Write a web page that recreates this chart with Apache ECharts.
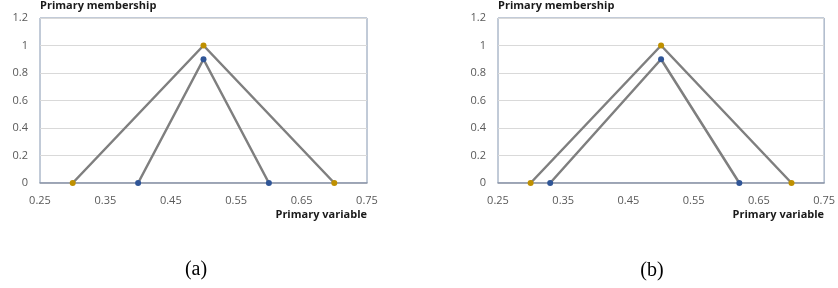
<!DOCTYPE html>
<html>
<head>
<meta charset="utf-8">
<script src="https://cdn.jsdelivr.net/npm/echarts@6/dist/echarts.min.js"></script>
<style>
  html, body { margin: 0; padding: 0; background: #fff; }
  #chart { width: 838px; height: 288px; }
</style>
</head>
<body>
<div id="chart"></div>
<script>
// (a) data
const outerA = [[0.3, 0], [0.5, 1], [0.7, 0]]
const innerA = [[0.4, 0], [0.5, 0.9], [0.6, 0]]
// (b) data
const outerB = [[0.3, 0], [0.5, 1], [0.7, 0]]
const innerB = [[0.33, 0], [0.5, 0.9], [0.62, 0]]

const xMin = 0.25, xMax = 0.75, xStep = 0.1
const yMin = 0, yMax = 1.2, yStep = 0.2
const captions = ['(a)', '(b)']

const chart = echarts.init(document.getElementById('chart'))

const labelFont = 'Open Sans, Liberation Sans, sans-serif'

function xAxisFor(idx) {
  return {
    gridIndex: idx,
    type: 'value',
    min: xMin,
    max: xMax,
    interval: xStep,
    name: 'Primary variable',
    nameLocation: 'end',
    nameGap: 0,
    nameTextStyle: {
      align: 'right',
      verticalAlign: 'top',
      padding: [26, 0, 0, 0],
      fontWeight: 'bold',
      fontSize: 11,
      color: '#1a1a1a',
      fontFamily: labelFont
    },
    axisLine: { lineStyle: { color: '#8e98aa', width: 1.5 } },
    axisTick: { show: false },
    splitLine: { show: false },
    axisLabel: {
      margin: 12,
      color: '#595959',
      fontSize: 11,
      fontFamily: labelFont,
      formatter: v => v.toFixed(2)
    }
  }
}

function yAxisFor(idx) {
  return {
    gridIndex: idx,
    type: 'value',
    min: yMin,
    max: yMax,
    interval: yStep,
    name: 'Primary membership',
    nameLocation: 'end',
    nameGap: 7,
    nameTextStyle: {
      align: 'left',
      fontWeight: 'bold',
      fontSize: 11,
      color: '#1a1a1a',
      fontFamily: labelFont
    },
    axisLine: { show: false },
    axisTick: { show: false },
    splitLine: { lineStyle: { color: '#d9d9d9', width: 1 } },
    axisLabel: {
      margin: 12,
      color: '#595959',
      fontSize: 11,
      fontFamily: labelFont,
      formatter: v => String(Math.round(v * 10) / 10)
    }
  }
}

function lineSeries(idx, data, dotColor) {
  return {
    type: 'line',
    xAxisIndex: idx,
    yAxisIndex: idx,
    data: data,
    symbol: 'circle',
    symbolSize: 6,
    lineStyle: { color: '#7f7f7f', width: 2.5 },
    itemStyle: { color: dotColor },
    z: dotColor === '#2f5597' ? 3 : 2
  }
}

const gold = '#bf9000'
const blue = '#2f5597'

const option = {
  animation: false,
  grid: [
    { left: 40, top: 13, width: 327, height: 170, show: true, borderColor: '#8496b0', borderWidth: 1 },
    { left: 498, top: 13, width: 328, height: 170, show: true, borderColor: '#8496b0', borderWidth: 1 }
  ],
  xAxis: [xAxisFor(0), xAxisFor(1)],
  yAxis: [yAxisFor(0), yAxisFor(1)],
  series: [
    lineSeries(0, outerA, gold),
    lineSeries(0, innerA, blue),
    lineSeries(1, outerB, gold),
    lineSeries(1, innerB, blue)
  ],
  graphic: [
    {
      type: 'text', x: 196, y: 270,
      style: { text: captions[0], font: '20px "Liberation Serif", serif', fill: '#000', align: 'center', verticalAlign: 'middle' }
    },
    {
      type: 'text', x: 652, y: 271,
      style: { text: captions[1], font: '20px "Liberation Serif", serif', fill: '#000', align: 'center', verticalAlign: 'middle' }
    }
  ]
}

chart.setOption(option)
</script>
</body>
</html>
